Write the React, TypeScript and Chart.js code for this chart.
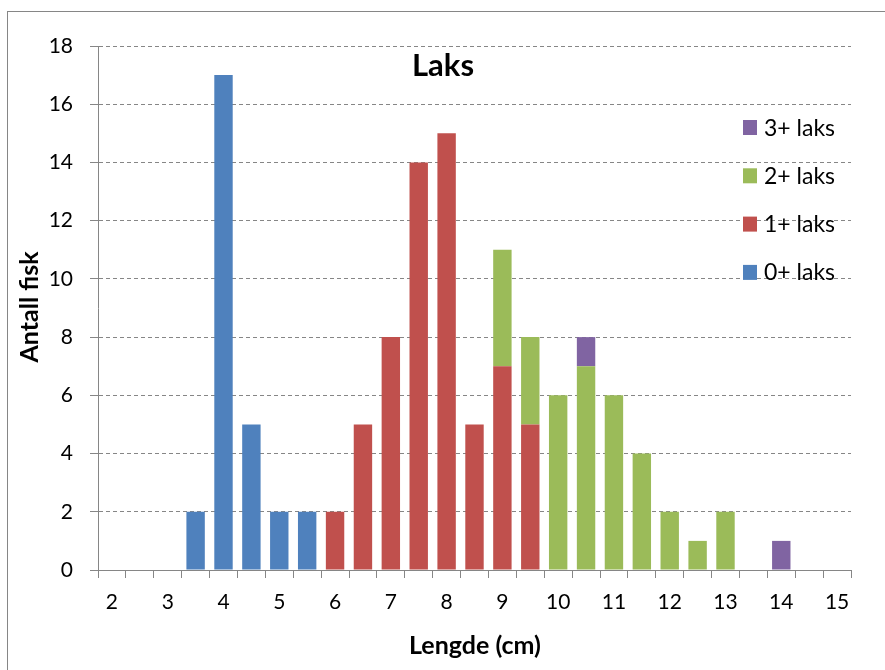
import { useEffect, useRef } from 'react';
import { Chart, registerables } from 'chart.js';

Chart.register(...registerables);

const categories = ['2', '2.5', '3', '3.5', '4', '4.5', '5', '5.5', '6', '6.5', '7', '7.5', '8', '8.5', '9', '9.5', '10', '10.5', '11', '11.5', '12', '12.5', '13', '13.5', '14', '14.5', '15'];
const laks0 = [0, 0, 0, 2, 17, 5, 2, 2, 0, 0, 0, 0, 0, 0, 0, 0, 0, 0, 0, 0, 0, 0, 0, 0, 0, 0, 0];
const laks1 = [0, 0, 0, 0, 0, 0, 0, 0, 2, 5, 8, 14, 15, 5, 7, 5, 0, 0, 0, 0, 0, 0, 0, 0, 0, 0, 0];
const laks2 = [0, 0, 0, 0, 0, 0, 0, 0, 0, 0, 0, 0, 0, 0, 4, 3, 6, 7, 6, 4, 2, 1, 2, 0, 0, 0, 0];
const laks3 = [0, 0, 0, 0, 0, 0, 0, 0, 0, 0, 0, 0, 0, 0, 0, 0, 0, 1, 0, 0, 0, 0, 0, 0, 1, 0, 0];
const seriesNames = ['0+ laks', '1+ laks', '2+ laks', '3+ laks'];
const seriesColors = ['#4F81BD', '#C0504D', '#9BBB59', '#8064A2'];
const chartTitle = 'Laks';
const xTitle = 'Lengde (cm)';
const yTitle = 'Antall fisk';

const FONT = 'Lato, "Liberation Sans", sans-serif';
const GRID = '#868686';

const decorPlugin = {
  id: 'decor',
  afterDraw(chart: any) {
    const ctx = chart.ctx;
    ctx.save();
    // outer border
    ctx.strokeStyle = GRID;
    ctx.lineWidth = 1;
    ctx.setLineDash([]);
    ctx.strokeRect(7.5, 11.5, 1000, 1000);
    ctx.fillStyle = '#000';
    // title
    ctx.font = `bold 31px ${FONT}`;
    ctx.textAlign = 'center';
    ctx.textBaseline = 'alphabetic';
    ctx.fillText(chartTitle, 443, 76);
    // x title
    ctx.font = `bold 25px ${FONT}`;
    ctx.fillText(xTitle, 475, 654);
    // y title
    ctx.save();
    ctx.translate(38, 307);
    ctx.rotate(-Math.PI / 2);
    ctx.fillText(yTitle, 0, 0);
    ctx.restore();
    // legend (reversed)
    ctx.font = `23px ${FONT}`;
    ctx.textAlign = 'left';
    for (let i = 0; i < 4; i++) {
      const s = 3 - i;
      const cy = 127.5 + i * 48.3;
      ctx.fillStyle = seriesColors[s];
      ctx.fillRect(743, cy - 7.5, 14, 15);
      ctx.fillStyle = '#000';
      ctx.fillText(seriesNames[s], 764, cy + 8);
    }
    ctx.restore();
  },
};

export default function App() {
  const ref = useRef<HTMLCanvasElement>(null);
  useEffect(() => {
    if (!ref.current) return;
    const data = [laks0, laks1, laks2, laks3];
    const chart = new Chart(ref.current, {
      type: 'bar',
      data: {
        labels: categories,
        datasets: data.map((d, i) => ({
          label: seriesNames[i],
          data: d,
          backgroundColor: seriesColors[i],
          borderWidth: 0,
          barPercentage: 1,
          categoryPercentage: 0.66,
        })),
      },
      options: {
        responsive: false,
        animation: false,
        layout: { padding: { left: 0, top: 46, right: 34, bottom: 0 } },
        plugins: { legend: { display: false }, title: { display: false }, tooltip: { enabled: false } },
        scales: {
          x: {
            stacked: true,
            afterFit: (s: any) => { s.height = 100; },
            grid: { drawOnChartArea: false, drawTicks: true, tickLength: 8, color: GRID, offset: true },
            border: { display: true, color: GRID, width: 1 },
            ticks: {
              autoSkip: false,
              maxRotation: 0,
              padding: 12,
              color: '#000',
              font: { family: FONT, size: 21 },
              callback: (_v: any, i: number) => (Number(categories[i]) % 1 === 0 ? categories[i] : ''),
            },
          },
          y: {
            stacked: true,
            min: 0,
            max: 18,
            afterFit: (s: any) => { s.width = 98; },
            grid: { color: GRID, tickBorderDash: [], tickColor: GRID, tickLength: 8, drawTicks: true },
            border: { display: true, color: GRID, width: 1, dash: [4, 3] },
            ticks: {
              stepSize: 2,
              padding: 17,
              color: '#000',
              font: { family: FONT, size: 21 },
            },
          },
        },
      },
      plugins: [decorPlugin],
    });
    return () => chart.destroy();
  }, []);
  return (
    <div style={{ position: 'absolute', left: 0, top: 0, width: 885, height: 670, background: '#fff' }}>
      <canvas ref={ref} width={885} height={670} />
    </div>
  );
}
